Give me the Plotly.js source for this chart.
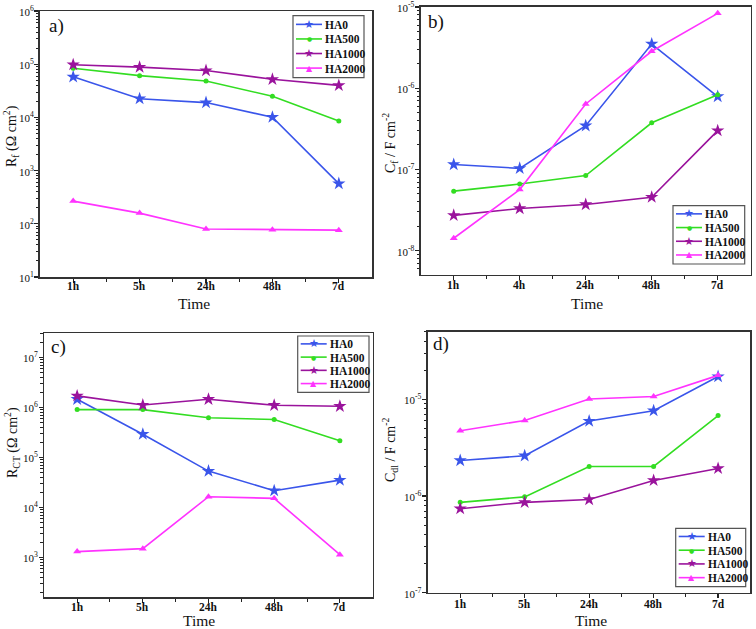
<!DOCTYPE html>
<html>
<head>
<meta charset="utf-8">
<script src="https://cdn.plot.ly/plotly-3.0.1.min.js"></script>
<style>html,body{margin:0;padding:0;background:#fff;}#chart{width:756px;height:629px;}</style>
</head>
<body>
<div id="chart"></div>
<script>
// ---------- data ----------
const seriesNames = ["HA0", "HA500", "HA1000", "HA2000"];
const timesA = ["1h", "5h", "24h", "48h", "7d"];
const timesB = ["1h", "4h", "24h", "48h", "7d"];
const timesC = ["1h", "5h", "24h", "48h", "7d"];
const timesD = ["1h", "5h", "24h", "48h", "7d"];

// a) Rf (Ohm cm2)
const rfHA0    = [5.8e4, 2.25e4, 1.9e4, 1.01e4, 5.7e2];
const rfHA500  = [8.4e4, 6.1e4, 4.85e4, 2.5e4, 8.6e3];
const rfHA1000 = [9.8e4, 8.8e4, 7.6e4, 5.2e4, 4.0e4];
const rfHA2000 = [267, 159, 80, 77, 76];

// b) Cf (F cm-2)
const cfHA0    = [1.15e-7, 1.03e-7, 3.45e-7, 3.5e-6, 7.9e-7];
const cfHA500  = [5.4e-8, 6.6e-8, 8.4e-8, 3.75e-7, 8.3e-7];
const cfHA1000 = [2.72e-8, 3.3e-8, 3.7e-8, 4.55e-8, 3.0e-7];
const cfHA2000 = [1.42e-8, 5.65e-8, 6.4e-7, 2.85e-6, 8.35e-6];

// c) RCT (Ohm cm2)
const rctHA0    = [1.45e6, 2.9e5, 5.3e4, 2.15e4, 3.5e4];
const rctHA500  = [9.0e5, 9.0e5, 6.2e5, 5.7e5, 2.15e5];
const rctHA1000 = [1.69e6, 1.11e6, 1.45e6, 1.1e6, 1.05e6];
const rctHA2000 = [1.3e3, 1.49e3, 1.63e4, 1.51e4, 1.13e3];

// d) Cdl (F cm-2)
const cdlHA0    = [2.33e-6, 2.61e-6, 5.96e-6, 7.63e-6, 1.72e-5];
const cdlHA500  = [8.6e-7, 9.8e-7, 2.02e-6, 2.02e-6, 6.8e-6];
const cdlHA1000 = [7.4e-7, 8.6e-7, 9.2e-7, 1.45e-6, 1.93e-6];
const cdlHA2000 = [4.73e-6, 6.05e-6, 1.01e-5, 1.07e-5, 1.77e-5];

// y tick labels
const tickValsA = [1e1, 1e2, 1e3, 1e4, 1e5, 1e6];
const tickTextA = ["10<sup>1</sup>", "10<sup>2</sup>", "10<sup>3</sup>", "10<sup>4</sup>", "10<sup>5</sup>", "10<sup>6</sup>"];
const tickValsB = [1e-8, 1e-7, 1e-6, 1e-5];
const tickTextB = ["10<sup>-8</sup>", "10<sup>-7</sup>", "10<sup>-6</sup>", "10<sup>-5</sup>"];
const tickValsC = [1e3, 1e4, 1e5, 1e6, 1e7];
const tickTextC = ["10<sup>3</sup>", "10<sup>4</sup>", "10<sup>5</sup>", "10<sup>6</sup>", "10<sup>7</sup>"];
const tickValsD = [1e-7, 1e-6, 1e-5];
const tickTextD = ["10<sup>-7</sup>", "10<sup>-6</sup>", "10<sup>-5</sup>"];

// ---------- styling ----------
const colors = ["#3a55ea", "#33dd22", "#9a139c", "#ff33ff"];
const symbols = ["star", "circle", "star", "triangle-up"];
const sizes = [10, 5, 10, 7];
const legendGlyphs = ["★", "●", "★", "▲"];
const legendGlyphSizes = [11, 6, 11, 8];
const serif = "Liberation Serif";
const W = 756, H = 629;

function minorVals(lo, hi) {
  const v = [];
  for (let k = Math.floor(lo); k <= Math.ceil(hi); k++) {
    for (let m = 2; m <= 9; m++) {
      const val = m * Math.pow(10, k);
      const lg = Math.log10(val);
      if (lg > lo && lg < hi) v.push(val);
    }
  }
  return v;
}

const panels = [
  {times: timesA, data: [rfHA0, rfHA500, rfHA1000, rfHA2000], xa: "x", ya: "y", tv: tickValsA, tt: tickTextA, xLabelY: 286, yLabelX: 36},
  {times: timesB, data: [cfHA0, cfHA500, cfHA1000, cfHA2000], xa: "x2", ya: "y2", tv: tickValsB, tt: tickTextB, xLabelY: 285, yLabelX: 417},
  {times: timesC, data: [rctHA0, rctHA500, rctHA1000, rctHA2000], xa: "x3", ya: "y3", tv: tickValsC, tt: tickTextC, xLabelY: 607, yLabelX: 40},
  {times: timesD, data: [cdlHA0, cdlHA500, cdlHA1000, cdlHA2000], xa: "x4", ya: "y4", tv: tickValsD, tt: tickTextD, xLabelY: 604, yLabelX: 424}
];

const traces = [];
panels.forEach(p => {
  p.data.forEach((vals, i) => {
    traces.push({
      type: "scatter", mode: "lines+markers",
      name: seriesNames[i], showlegend: false,
      x: p.times.map((_, j) => j),
      y: vals,
      xaxis: p.xa, yaxis: p.ya,
      line: {color: colors[i], width: 1.6},
      marker: {color: colors[i], symbol: symbols[i], size: sizes[i], line: {width: 0}}
    });
  });
});

function xAxis(dom, times, anchor) {
  return {
    domain: dom, anchor: anchor,
    range: [-0.5, 4.5],
    tickmode: "array", tickvals: times.map((_, j) => j), ticktext: times,
    showticklabels: false,
    ticks: "outside", ticklen: 4, tickwidth: 1.2, tickcolor: "#222",
    minor: {tickmode: "array", tickvals: [0.5, 1.5, 2.5, 3.5], ticks: "outside", ticklen: 3, tickwidth: 1, tickcolor: "#222"},
    showline: true, linecolor: "#333", linewidth: 1.5, mirror: true,
    showgrid: false, zeroline: false,
    automargin: false
  };
}
function yAxis(dom, rng, tv, tt, anchor) {
  return {
    domain: dom, anchor: anchor, type: "log",
    range: rng,
    tickmode: "array", tickvals: tv, ticktext: tt,
    showticklabels: false,
    ticks: "outside", ticklen: 4, tickwidth: 1.2, tickcolor: "#222",
    minor: {tickmode: "array", tickvals: minorVals(rng[0], rng[1]), ticks: "outside", ticklen: 2.5, tickwidth: 1, tickcolor: "#222"},
    showline: true, linecolor: "#333", linewidth: 1.5, mirror: true,
    showgrid: false, zeroline: false,
    automargin: false
  };
}

const shapes = [];
const annotations = [];
const px = x => x / W;
const py = y => 1 - y / H;
function ann(text, x, y, opts) {
  annotations.push(Object.assign({
    text: text, x: px(x), y: py(y), xref: "paper", yref: "paper",
    showarrow: false, xanchor: "center", yanchor: "middle",
    font: {family: serif, size: 14, color: "#111"}
  }, opts || {}));
}

// tick labels drawn through the axes' own scales
panels.forEach(p => {
  p.times.forEach((t, j) => {
    annotations.push({text: t, xref: p.xa, x: j, yref: "paper", y: py(p.xLabelY),
      showarrow: false, xanchor: "center", yanchor: "middle",
      font: {family: serif, size: 11.5, color: "#111", weight: "bold"}});
  });
  p.tv.forEach((v, k) => {
    annotations.push({text: p.tt[k], xref: "paper", x: px(p.yLabelX), yref: p.ya, y: Math.log10(v),
      showarrow: false, xanchor: "right", yanchor: "middle",
      font: {family: serif, size: 11, color: "#111"}});
  });
});

// panel labels
ann("a)", 47, 26, {xanchor: "left", font: {family: serif, size: 19, color: "#111"}});
ann("b)", 426, 22, {xanchor: "left", font: {family: serif, size: 19, color: "#111"}});
ann("c)", 49, 347, {xanchor: "left", font: {family: serif, size: 19, color: "#111"}});
ann("d)", 431, 344, {xanchor: "left", font: {family: serif, size: 19, color: "#111"}});

// axis titles
const timeFont = {family: serif, size: 15.5, color: "#111"};
ann("Time", 194, 303, {font: timeFont});
ann("Time", 587, 303, {font: timeFont});
ann("Time", 199, 620, {font: timeFont});
ann("Time", 591, 620, {font: timeFont});
const yFont = {family: serif, size: 14, color: "#111"};
ann("R<sub>f</sub> (Ω cm<sup>2</sup>)", 11, 136, {textangle: -90, font: yFont});
ann("C<sub>f</sub> / F cm<sup>-2</sup>", 390, 143, {textangle: -90, font: yFont});
ann("R<sub>CT</sub> (Ω cm<sup>2</sup>)", 12, 443, {textangle: -90, font: yFont});
ann("C<sub>dl</sub> / F cm<sup>-2</sup>", 390, 450, {textangle: -90, font: yFont});

// custom legends (box in pixels)
function addLegend(x0, y0, x1, y1) {
  shapes.push({type: "rect", xref: "paper", yref: "paper", x0: px(x0), x1: px(x1), y0: py(y0), y1: py(y1),
    line: {color: "#555", width: 1.2}, fillcolor: "#fff", layer: "above"});
  const h = y1 - y0;
  seriesNames.forEach((n, i) => {
    const yc = y0 + h * 0.14 + i * h * 0.235;
    shapes.push({type: "line", xref: "paper", yref: "paper", x0: px(x0 + 3), x1: px(x0 + 29), y0: py(yc), y1: py(yc),
      line: {color: colors[i], width: 1.6}, layer: "above"});
    ann(legendGlyphs[i], x0 + 16, yc, {font: {family: "DejaVu Sans", size: legendGlyphSizes[i], color: colors[i]}});
    ann(n, x0 + 30, yc + 0.5, {xanchor: "left", font: {family: serif, size: 11.5, color: "#111", weight: "bold"}});
  });
}
addLegend(293, 15.7, 364, 77.7);
addLegend(673, 205.7, 744.7, 264);
addLegend(297.7, 336, 369, 392.3);
addLegend(675.7, 528.3, 745.7, 586.7);

const layout = {
  width: W, height: H,
  margin: {l: 0, r: 0, t: 0, b: 0},
  font: {family: serif, size: 11, color: "#111"},
  paper_bgcolor: "#fff", plot_bgcolor: "#fff",
  showlegend: false,
  xaxis:  xAxis([0.0529, 0.4921], timesA, "y"),
  yaxis:  yAxis([0.5596, 0.9825], [1, 6], tickValsA, tickTextA, "x"),
  xaxis2: xAxis([0.5565, 0.9930], timesB, "y2"),
  yaxis2: yAxis([0.5628, 0.9889], [-8.3, -5], tickValsB, tickTextB, "x2"),
  xaxis3: xAxis([0.0586, 0.4930], timesC, "y3"),
  yaxis3: yAxis([0.0504, 0.4701], [2.2, 7.48], tickValsC, tickTextC, "x3"),
  xaxis4: xAxis([0.5661, 0.9925], timesD, "y4"),
  yaxis4: yAxis([0.0577, 0.4727], [-7, -4.3], tickValsD, tickTextD, "x4"),
  shapes: shapes,
  annotations: annotations
};

Plotly.newPlot("chart", traces, layout, {displayModeBar: false, staticPlot: true});
</script>
</body>
</html>
